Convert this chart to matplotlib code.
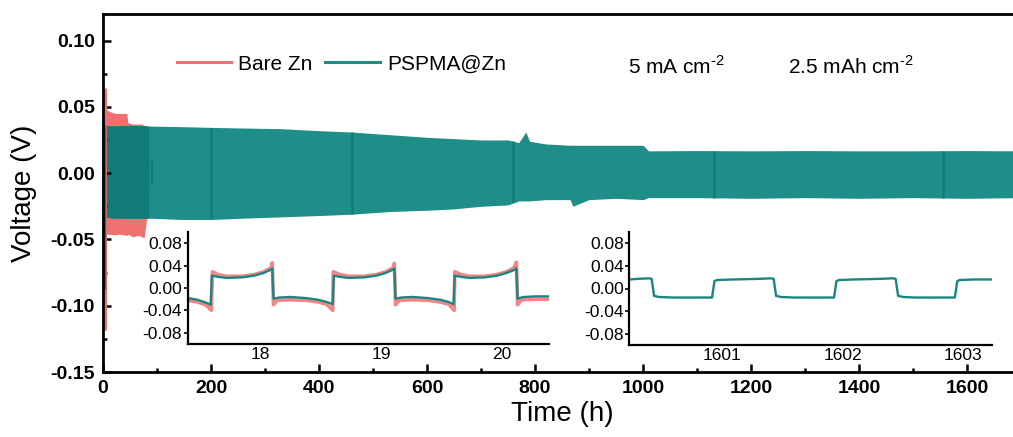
import matplotlib
matplotlib.use('Agg')
import matplotlib.pyplot as plt
import numpy as np
from matplotlib.lines import Line2D
from matplotlib.ticker import MultipleLocator, FormatStrFormatter

plt.rcParams['font.family'] = ['Liberation Sans', 'DejaVu Sans']
plt.rcParams['mathtext.fontset'] = 'custom'
plt.rcParams['mathtext.rm'] = 'Liberation Sans'
plt.rcParams['axes.unicode_minus'] = False

# colours
teal = '#1f8e89'
teal_dark = '#117b77'
teal_line = '#1a8681'
red = '#f07070'

# ---- main plot: envelope of the PSPMA@Zn cycling band (h, V)
t_env = np.array([0, 20, 50, 85, 150, 200, 260, 330, 400, 460, 530, 600, 650, 700, 750, 770,
                  783, 790, 820, 865, 870, 900, 950, 1000, 1010, 1100, 1200, 1300, 1400, 1500, 1600, 1700])
upper = np.array([0.036, 0.0355, 0.036, 0.0355, 0.035, 0.0345, 0.034, 0.0335, 0.032, 0.031, 0.029, 0.027,
                  0.026, 0.025, 0.025, 0.023, 0.031, 0.024, 0.022, 0.021, 0.021, 0.021, 0.021, 0.021,
                  0.0168, 0.017, 0.0168, 0.017, 0.0168, 0.0168, 0.017, 0.0168])
lower = np.array([-0.033, -0.034, -0.034, -0.034, -0.035, -0.035, -0.034, -0.033, -0.032, -0.031, -0.029,
                  -0.028, -0.027, -0.025, -0.024, -0.021, -0.021, -0.021, -0.020, -0.020, -0.025, -0.020,
                  -0.019, -0.020, -0.0185, -0.0185, -0.019, -0.0185, -0.019, -0.0185, -0.019, -0.0185])

# darker streaks inside the band
streak_t = [200, 461, 759, 1131, 1556]
streak_hi = [0.034, 0.031, 0.024, 0.017, 0.017]
streak_lo = [-0.034, -0.031, -0.022, -0.0185, -0.019]

# Bare Zn envelope (only first ~80 h)
t_bare = np.array([0, 1, 4, 9, 22, 30, 44, 46, 55, 65, 72, 76, 79, 81])
bare_upper = np.array([0.064, 0.058, 0.049, 0.047, 0.045, 0.045, 0.045, 0.038, 0.037, 0.037, 0.037, 0.036, 0.036, 0.035])
bare_lower = np.array([-0.046, -0.046, -0.046, -0.046, -0.0465, -0.046, -0.047, -0.046, -0.048, -0.047, -0.048, -0.049, -0.040, -0.034])
# first-cycle dips at t ~ 0
bare_dip = -0.118
pspma_dip = -0.088

# ---- inset 1: hours 17.4 - 20.4
t1_p = [17.40, 17.48, 17.55, 17.59, 17.60, 17.65, 17.72, 17.85, 17.95, 18.03, 18.09, 18.10,
        18.11, 18.16, 18.25, 18.38, 18.48, 18.55, 18.60, 18.61, 18.66, 18.73, 18.86, 18.96,
        19.04, 19.10, 19.11, 19.12, 19.17, 19.26, 19.39, 19.49, 19.56, 19.60, 19.61, 19.66,
        19.73, 19.86, 19.96, 20.04, 20.10, 20.12, 20.13, 20.18, 20.28, 20.39]
v1_p = [-0.018, -0.021, -0.026, -0.030, 0.022, 0.020, 0.018, 0.019, 0.022, 0.027, 0.033, 0.035,
        -0.019, -0.017, -0.016, -0.018, -0.021, -0.025, -0.029, 0.022, 0.020, 0.018, 0.019, 0.022,
        0.027, 0.033, 0.035, -0.019, -0.017, -0.016, -0.018, -0.021, -0.025, -0.029, 0.022, 0.020,
        0.018, 0.019, 0.022, 0.027, 0.032, 0.035, -0.019, -0.016, -0.015, -0.015]
t1_b = [17.40, 17.48, 17.55, 17.595, 17.605, 17.65, 17.72, 17.85, 17.95, 18.03, 18.09, 18.10,
        18.11, 18.14, 18.25, 18.38, 18.48, 18.55, 18.60, 18.605, 18.66, 18.73, 18.86, 18.96,
        19.04, 19.10, 19.11, 19.12, 19.15, 19.26, 19.39, 19.49, 19.56, 19.605, 19.61, 19.66,
        19.73, 19.86, 19.96, 20.04, 20.10, 20.12, 20.13, 20.16, 20.28, 20.39]
v1_b = [-0.022, -0.025, -0.030, -0.040, 0.029, 0.024, 0.021, 0.021, 0.024, 0.029, 0.036, 0.045,
        -0.030, -0.022, -0.021, -0.022, -0.025, -0.029, -0.040, 0.029, 0.024, 0.021, 0.021, 0.024,
        0.029, 0.036, 0.044, -0.030, -0.022, -0.021, -0.022, -0.025, -0.029, -0.040, 0.029, 0.024,
        0.021, 0.021, 0.024, 0.029, 0.036, 0.046, -0.030, -0.021, -0.020, -0.020]

# ---- inset 2: hours 1600.2 - 1603.2
t2_p = [1600.24, 1600.30, 1600.40, 1600.42, 1600.44, 1600.48, 1600.60, 1600.80, 1600.92, 1600.94,
        1600.96, 1601.10, 1601.30, 1601.41, 1601.43, 1601.45, 1601.49, 1601.60, 1601.80, 1601.93,
        1601.95, 1601.97, 1602.10, 1602.30, 1602.42, 1602.44, 1602.46, 1602.50, 1602.60, 1602.80,
        1602.93, 1602.95, 1602.97, 1603.10, 1603.235]
v2_p = [0.016, 0.017, 0.018, 0.017, -0.013, -0.015, -0.016, -0.016, -0.016, 0.013,
        0.015, 0.016, 0.017, 0.018, 0.017, -0.013, -0.015, -0.016, -0.016, -0.016,
        0.013, 0.015, 0.016, 0.017, 0.018, 0.017, -0.013, -0.015, -0.016, -0.016,
        -0.016, 0.013, 0.015, 0.016, 0.016]

fig = plt.figure(figsize=(10.13, 4.37), dpi=100)
ax = fig.add_axes([103 / 1013, 1 - 372 / 437, 918 / 1013, 358 / 437])

# bare Zn band first, PSPMA on top
ax.fill_between(t_bare, bare_lower, bare_upper, color=red, lw=0)
ax.vlines([3.5], [bare_dip], [bare_upper[0]], color=red, lw=2.2)
ax.fill_between(t_env, lower, upper, color=teal, lw=0)
ax.fill_between(t_env, lower, upper, where=t_env <= 85, color=teal_dark, lw=0)
ax.vlines(streak_t, streak_lo, streak_hi, color=teal_dark, lw=1.8)
ax.vlines([3.5], [pspma_dip], [upper[0]], color=teal_dark, lw=1.6)
ax.vlines([91], [-0.009], [0.009], color=teal_dark, lw=1.5)

ax.set_xlim(0, 1700)
ax.set_ylim(-0.15, 0.12)
ax.xaxis.set_major_locator(MultipleLocator(200))
ax.xaxis.set_minor_locator(MultipleLocator(100))
ax.yaxis.set_major_locator(MultipleLocator(0.05))
ax.yaxis.set_minor_locator(MultipleLocator(0.025))
ax.yaxis.set_major_formatter(FormatStrFormatter('%.2f'))
ax.tick_params(which='both', direction='in', width=1.8)
ax.tick_params(which='major', length=6, pad=6, labelsize=14)
ax.tick_params(which='minor', length=3)
for lab in ax.get_xticklabels() + ax.get_yticklabels():
    lab.set_fontweight('bold')
for s in ax.spines.values():
    s.set_linewidth(2)

ax.set_xlabel('Time (h)', fontsize=20)
ax.set_ylabel('Voltage (V)', fontsize=20)
ax.xaxis.set_label_coords(0.5, -0.08)
ax.yaxis.set_label_coords(-0.072, 0.5)

handles = [Line2D([], [], color=red, lw=2.2), Line2D([], [], color=teal, lw=2.2)]
fig.legend(handles, ['Bare Zn', 'PSPMA@Zn'], loc='center left',
           bbox_to_anchor=(177 / 1013, 1 - 64 / 437), bbox_transform=fig.transFigure,
           ncol=2, frameon=False, fontsize=15, handlelength=2.6, handletextpad=0.35,
           columnspacing=0.6, borderpad=0, borderaxespad=0)
fig.text(628 / 1013, 1 - 66 / 437, r'5 mA cm$^{\text{-}2}$', fontsize=15, va='center')
fig.text(788 / 1013, 1 - 66 / 437, r'2.5 mAh cm$^{\text{-}2}$', fontsize=15, va='center')


def style_inset(a):
    a.set_facecolor('none')
    a.spines['top'].set_visible(False)
    a.spines['right'].set_visible(False)
    for s in ('left', 'bottom'):
        a.spines[s].set_linewidth(1.6)
    a.set_ylim(-0.1, 0.1)
    a.set_yticks([-0.08, -0.04, 0.0, 0.04, 0.08])
    a.yaxis.set_major_formatter(FormatStrFormatter('%.2f'))
    a.tick_params(axis='y', direction='out', length=3, width=1.2, pad=1, labelsize=12.5)
    a.tick_params(axis='x', length=0, pad=2, labelsize=12.5)


ins1 = fig.add_axes([187.7 / 1013, 1 - 344 / 437, 361.3 / 1013, 112 / 437])
ins1.plot(t1_b, v1_b, color=red, lw=2.6, alpha=0.85)
ins1.plot(t1_p, v1_p, color=teal_line, lw=1.7)
ins1.set_xlim(17.4, 20.39)
ins1.set_xticks([18, 19, 20])
style_inset(ins1)

ins2 = fig.add_axes([629.3 / 1013, 1 - 345 / 437, 362.4 / 1013, 113 / 437])
ins2.plot(t2_p, v2_p, color=teal_line, lw=1.7)
ins2.set_xlim(1600.235, 1603.235)
ins2.set_xticks([1601, 1602, 1603])
ins2.xaxis.set_major_formatter(FormatStrFormatter('%d'))
style_inset(ins2)

fig.savefig('out.png', dpi=100)
